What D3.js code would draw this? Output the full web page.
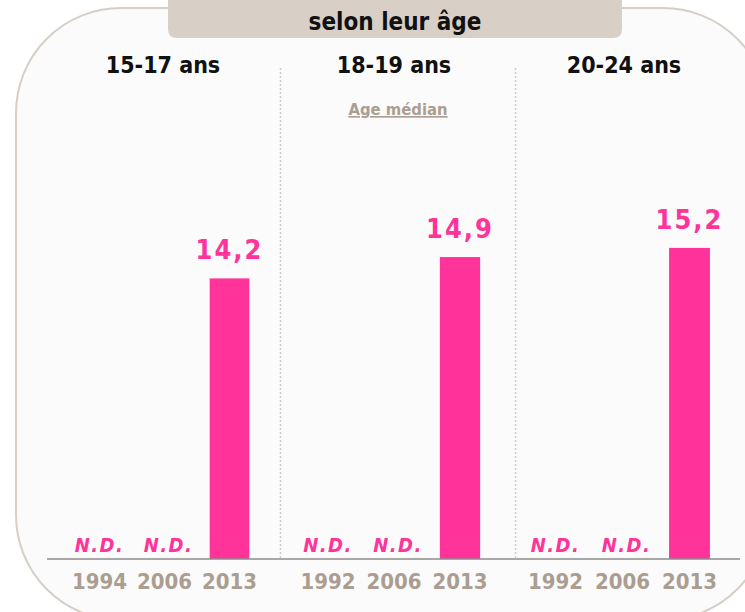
<!DOCTYPE html>
<html>
<head>
<meta charset="utf-8">
<script src="https://cdn.jsdelivr.net/npm/d3@7"></script>
<style>
  html, body { margin: 0; padding: 0; background: #ffffff; }
  svg { display: block; }
  text { font-family: "DejaVu Sans Condensed", "DejaVu Sans", sans-serif; font-weight: bold; }
</style>
</head>
<body>
<svg id="chart" width="745" height="612"></svg>
<script>
// ---- data ----
const headerTitle = "selon leur âge";
const measureLabel = "Age médian";
const groups = ["15-17 ans", "18-19 ans", "20-24 ans"];
const years15_17 = ["1994", "2006", "2013"];
const years18_19 = ["1992", "2006", "2013"];
const years20_24 = ["1992", "2006", "2013"];
const values15_17 = [null, null, 14.2];
const values18_19 = [null, null, 14.9];
const values20_24 = [null, null, 15.2];
const missingLabel = "N.D.";

const panels = [
  { title: groups[0], years: years15_17, values: values15_17, range: [67, 262], titleX: 163 },
  { title: groups[1], years: years18_19, values: values18_19, range: [295, 493], titleX: 394 },
  { title: groups[2], years: years20_24, values: values20_24, range: [522, 723], titleX: 624 }
];

const pink = "#ff3399";
const tan = "#ab9e91";
const fmt = v => d3.format(".1f")(v).replace(".", ",");

const svg = d3.select("#chart");

// frame
svg.append("rect")
  .attr("x", 16).attr("y", 8).attr("width", 752).attr("height", 612)
  .attr("rx", 105).attr("ry", 105)
  .attr("fill", "#fbfbfb").attr("stroke", "#d6cfc7").attr("stroke-width", 2);

// header tab (rounded bottom corners)
const tx0 = 168, tx1 = 622, ty1 = 38, r = 9;
svg.append("path")
  .attr("d", `M${tx0},-2 L${tx1},-2 L${tx1},${ty1 - r} Q${tx1},${ty1} ${tx1 - r},${ty1} L${tx0 + r},${ty1} Q${tx0},${ty1} ${tx0},${ty1 - r} Z`)
  .attr("fill", "#d8cfc6");
svg.append("text")
  .attr("x", 395).attr("y", 30)
  .attr("text-anchor", "middle")
  .attr("font-size", 24).attr("fill", "#111")
  .text(headerTitle);

// y scale shared
const axisY = 559;
const y = d3.scaleLinear().domain([5, 20]).range([axisY, axisY - 15 * 30.5]);

// separators
[280.5, 515.5].forEach(sx => {
  svg.append("line")
    .attr("x1", sx).attr("x2", sx).attr("y1", 68).attr("y2", axisY)
    .attr("stroke", "#d3cbc3").attr("stroke-width", 1.5)
    .attr("stroke-dasharray", "2,2");
});

// measure label
svg.append("text")
  .attr("x", 398).attr("y", 115)
  .attr("text-anchor", "middle")
  .attr("font-size", 16.5).attr("fill", tan)
  .attr("text-decoration", "underline")
  .text(measureLabel);

panels.forEach(p => {
  const x = d3.scaleBand().domain(p.years).range(p.range).paddingInner(0.39).paddingOuter(0.195);
  const g = svg.append("g");

  g.append("text")
    .attr("x", p.titleX).attr("y", 73)
    .attr("text-anchor", "middle")
    .attr("font-size", 23).attr("fill", "#111")
    .text(p.title);

  p.years.forEach((yr, i) => {
    const v = p.values[i];
    const cx = x(yr) + x.bandwidth() / 2;
    if (v == null) {
      g.append("text")
        .attr("x", cx + (i === 1 ? 4 : 0)).attr("y", 552)
        .attr("text-anchor", "middle")
        .attr("font-size", 20).attr("font-style", "italic")
        .attr("letter-spacing", 1.5)
        .attr("fill", pink)
        .text(missingLabel);
    } else {
      g.append("rect")
        .attr("x", x(yr)).attr("width", x.bandwidth())
        .attr("y", y(v)).attr("height", axisY - y(v))
        .attr("fill", pink);
      g.append("text")
        .attr("x", cx).attr("y", y(v) - 19)
        .attr("text-anchor", "middle")
        .attr("font-size", 27).attr("letter-spacing", 2)
        .attr("fill", pink)
        .text(fmt(v));
    }
  });

  const axis = d3.axisBottom(x).tickSize(0).tickPadding(0);
  const ag = g.append("g").attr("transform", `translate(0,${axisY})`).call(axis);
  ag.select(".domain").remove();
  ag.selectAll("text")
    .attr("dy", null).attr("y", 30)
    .attr("font-size", 22).attr("fill", tan)
    .style("font-family", "'DejaVu Sans Condensed','DejaVu Sans',sans-serif")
    .style("font-weight", "bold");
});

// baseline
svg.append("line")
  .attr("x1", 47).attr("x2", 740).attr("y1", axisY).attr("y2", axisY)
  .attr("stroke", "#8c8c8c").attr("stroke-width", 1.5);
</script>
</body>
</html>
